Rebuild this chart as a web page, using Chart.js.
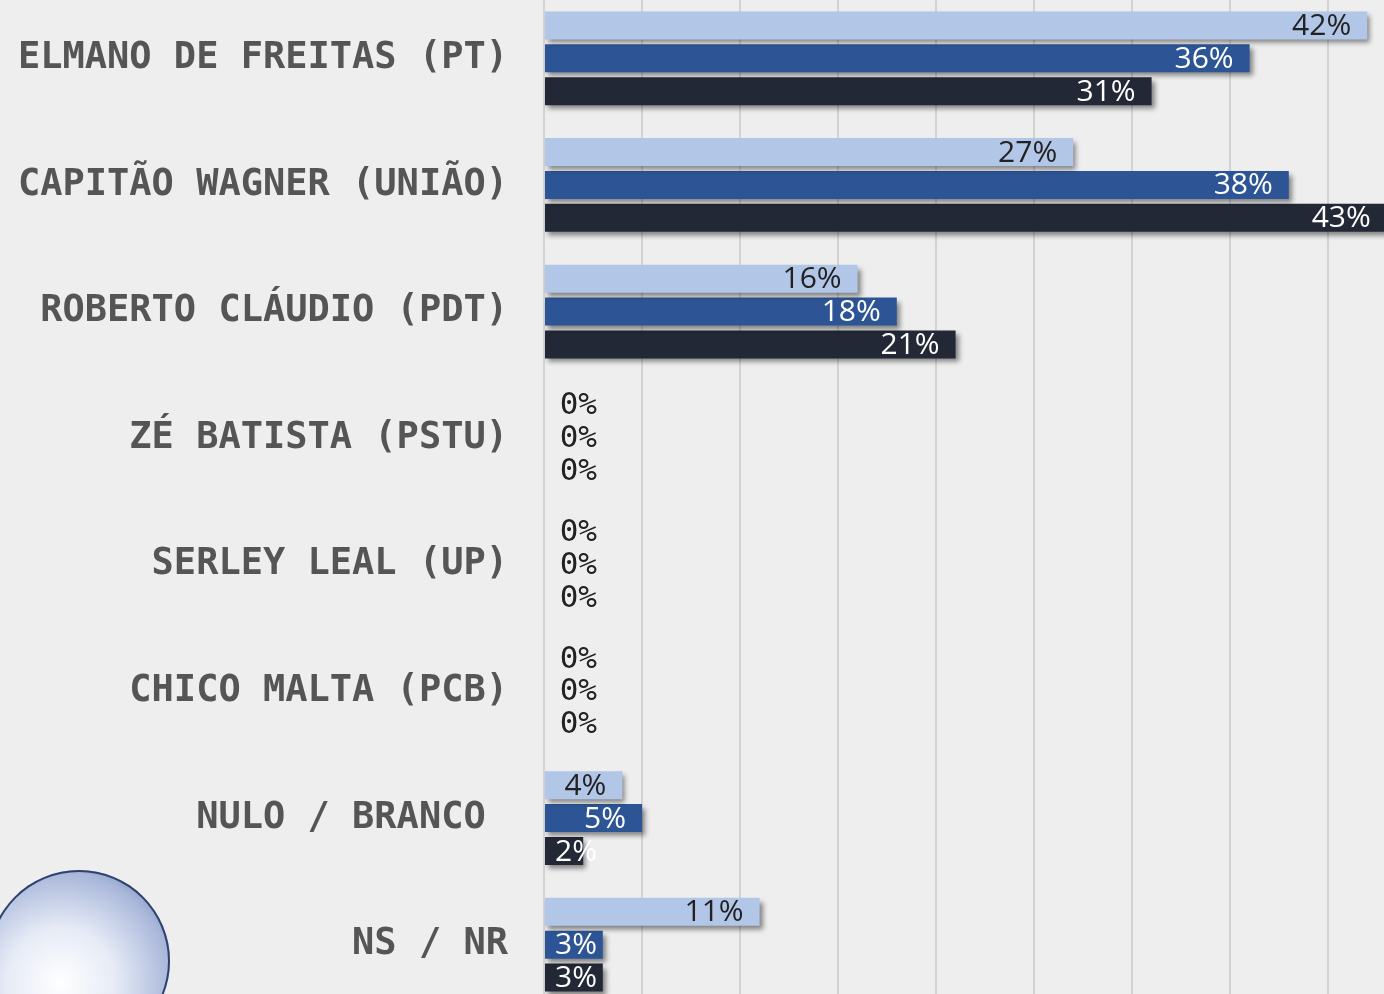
<!DOCTYPE html>
<html>
<head>
    <meta charset="utf-8">
    <title>Pesquisa Fortaleza</title>
    <script src="https://cdn.jsdelivr.net/npm/chart.js"></script>
    <style>
        html, body { margin: 0; padding: 0; width: 1384px; height: 994px; overflow: hidden; background: #eeeeee; }
        #wrap { position: absolute; left: 0; top: -5px; width: 1430px; height: 1013px; }
        #logo {
            position: absolute; left: -12px; top: 870px; width: 182px; height: 182px; border-radius: 50%;
            background: radial-gradient(circle at 40% 62%, #ffffff 0%, #e6ebf6 35%, #a9b7da 70%, #4a5f96 100%);
            box-shadow: inset 0 0 0 2px #2f426f;
        }
    </style>
</head>
<body>
    <div id="wrap"><canvas id="chart"></canvas></div>
    <div id="logo"></div>

    <script>
        const categories = [
            'ELMANO DE FREITAS (PT)',
            'CAPITÃO WAGNER (UNIÃO)',
            'ROBERTO CLÁUDIO (PDT)',
            'ZÉ BATISTA (PSTU)',
            'SERLEY LEAL (UP)',
            'CHICO MALTA (PCB)',
            'NULO / BRANCO ',
            'NS / NR'
        ];
        const series1 = [42, 27, 16, 0, 0, 0, 4, 11];
        const series2 = [36, 38, 18, 0, 0, 0, 5, 3];
        const series3 = [31, 43, 21, 0, 0, 0, 2, 3];
        const barColors = ['#b2c6e7', '#2d5596', '#222835'];
        const textColors = ['#222222', '#ffffff', '#ffffff'];

        // shadow under the bars + value labels
        const barDecor = {
            id: 'barDecor',
            beforeDatasetsDraw(chart) {
                const ctx = chart.ctx;
                ctx.save();
                ctx.shadowColor = 'rgba(0,0,0,0.45)';
                ctx.shadowBlur = 5;
                ctx.shadowOffsetX = 3;
                ctx.shadowOffsetY = 4;
            },
            afterDatasetsDraw(chart) {
                const ctx = chart.ctx;
                ctx.restore();
                const x0 = chart.scales.x.getPixelForValue(0);
                ctx.save();
                ctx.textAlign = 'right';
                ctx.textBaseline = 'middle';
                chart.data.datasets.forEach((ds, i) => {
                    chart.getDatasetMeta(i).data.forEach((bar, j) => {
                        const v = ds.data[j];
                        const x = Math.max(bar.x - 16, x0 + 53);
                        if (v === 0) {
                            ctx.font = '31px "DejaVu Sans Mono"';
                            ctx.fillStyle = '#222222';
                        } else {
                            ctx.font = '30px "Open Sans"';
                            ctx.fillStyle = textColors[i];
                        }
                        ctx.fillText(v + '%', x, bar.y + 1);
                    });
                });
                ctx.restore();
            }
        };

        new Chart(document.getElementById('chart'), {
            type: 'bar',
            data: {
                labels: categories,
                datasets: [
                    { data: series1, backgroundColor: barColors[0] },
                    { data: series2, backgroundColor: barColors[1] },
                    { data: series3, backgroundColor: barColors[2] }
                ]
            },
            options: {
                indexAxis: 'y',
                responsive: true,
                maintainAspectRatio: false,
                animation: false,
                layout: { padding: { left: 0, right: 4, top: 0, bottom: 0 } },
                categoryPercentage: 0.78,
                barPercentage: 0.85,
                plugins: { legend: { display: false }, tooltip: { enabled: false } },
                scales: {
                    x: {
                        min: 0,
                        max: 45,
                        ticks: { display: false, stepSize: 5 },
                        grid: { color: '#d3d3d3', lineWidth: 2, drawTicks: false },
                        border: { display: false },
                        afterFit(scale) {
                            scale.height = 0;
                            scale.paddingLeft = 0;
                            scale.paddingRight = 0;
                        }
                    },
                    y: {
                        grid: { display: false, drawTicks: false },
                        border: { display: false },
                        ticks: {
                            padding: 36,
                            color: '#555555',
                            font: { family: 'DejaVu Sans Mono', size: 37, weight: 'bold' }
                        },
                        afterFit(scale) {
                            scale.width = 544;
                            scale.paddingTop = 0;
                            scale.paddingBottom = 0;
                        }
                    }
                }
            },
            plugins: [barDecor]
        });
    </script>
</body>
</html>
